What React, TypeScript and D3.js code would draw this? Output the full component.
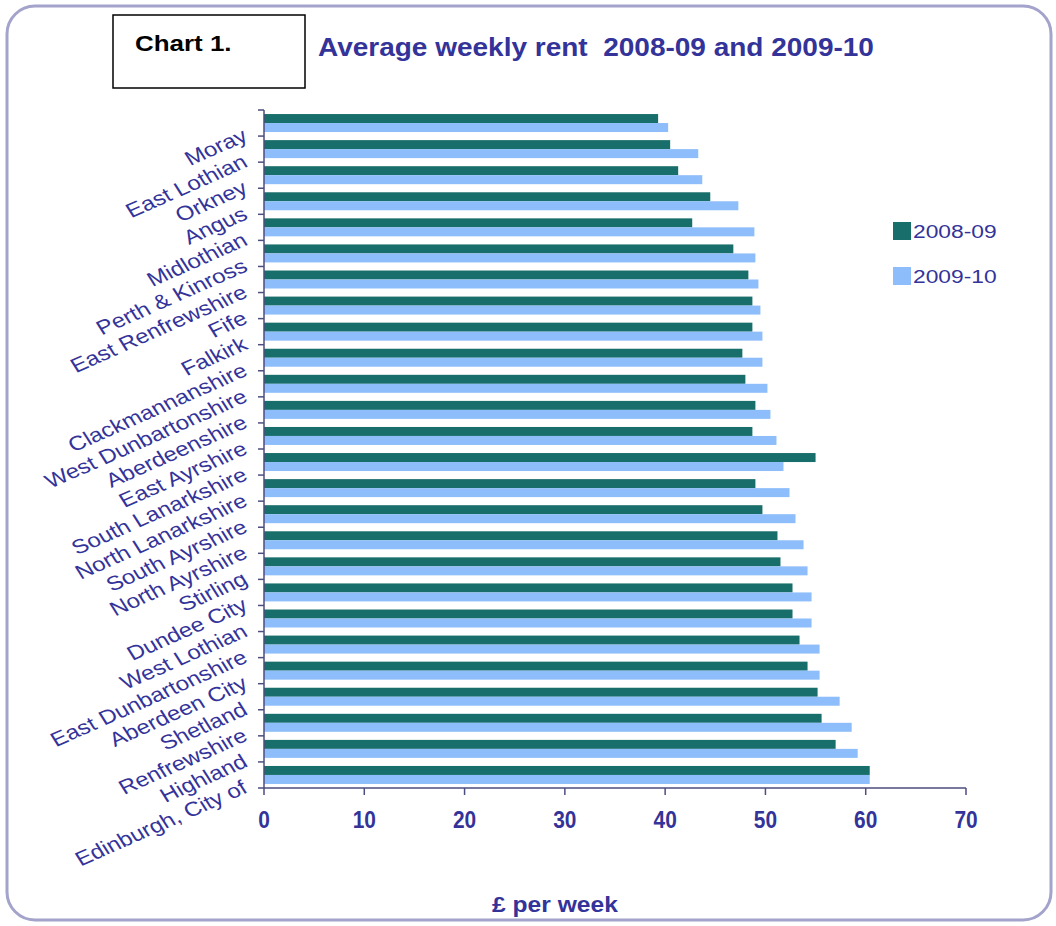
import * as d3 from 'd3'

const categories = [
  'Moray', 'East Lothian', 'Orkney', 'Angus', 'Midlothian', 'Perth & Kinross',
  'East Renfrewshire', 'Fife', 'Falkirk', 'Clackmannanshire', 'West Dunbartonshire',
  'Aberdeenshire', 'East Ayrshire', 'South Lanarkshire', 'North Lanarkshire',
  'South Ayrshire', 'North Ayrshire', 'Stirling', 'Dundee City', 'West Lothian',
  'East Dunbartonshire', 'Aberdeen City', 'Shetland', 'Renfrewshire', 'Highland',
  'Edinburgh, City of',
]
const rent0809 = [
  39.3, 40.5, 41.3, 44.5, 42.7, 46.8, 48.3, 48.7, 48.7, 47.7, 48.0, 49.0, 48.7,
  55.0, 49.0, 49.7, 51.2, 51.5, 52.7, 52.7, 53.4, 54.2, 55.2, 55.6, 57.0, 60.4,
]
const rent0910 = [
  40.3, 43.3, 43.7, 47.3, 48.9, 49.0, 49.3, 49.5, 49.7, 49.7, 50.2, 50.5, 51.1,
  51.8, 52.4, 53.0, 53.8, 54.2, 54.6, 54.6, 55.4, 55.4, 57.4, 58.6, 59.2, 60.4,
]
const seriesNames = ['2008-09', '2009-10']
const xTicks = [0, 10, 20, 30, 40, 50, 60, 70]

const W = 1056
const H = 926
const left = 264, right = 966, top = 110, bottom = 788
const navy = '#333399'
const axisColor = '#4d4d80'
const colors = ['#186e6a', '#8dbdfa']

// horizontal stretch around an anchor x, the source image text is a bit wide
const sx = (ax: number, k: number) => `translate(${ax},0) scale(${k},1) translate(${-ax},0)`

export default function App() {
  const x = d3.scaleLinear([0, 70], [left, right])
  const y = d3.scaleBand(categories, [top, bottom]).padding(0)
  const sub = d3.scaleBand(seriesNames, [0, y.bandwidth()]).paddingInner(0).paddingOuter(0.45)
  const color = d3.scaleOrdinal(seriesNames, colors)
  const series = [rent0809, rent0910]
  const boundaries = categories.map(c => y(c) as number).concat([bottom])

  return (
    <svg width={W} height={H} style={{ position: 'absolute', left: 0, top: 0, background: '#fff' }}
      fontFamily="'Liberation Sans', Arial, sans-serif">
      <rect x={7} y={6} width={1044} height={914} rx={28} fill="none" stroke="#a3a3cc" strokeWidth={3} />

      <rect x={113} y={15} width={192} height={73} fill="#fff" stroke="#000" strokeWidth={1.5} />
      <text x={135} y={51} fontSize={22} fontWeight="bold" fill="#000" transform={sx(135, 1.18)}>Chart 1.</text>
      <text x={318} y={56} fontSize={25} fontWeight="bold" fill={navy} transform={sx(318, 1.12)}
        style={{ whiteSpace: 'pre' }}>{'Average weekly rent  2008-09 and 2009-10'}</text>

      {series.map((vals, si) => (
        <g key={seriesNames[si]} fill={color(seriesNames[si])}>
          {vals.map((v, i) => (
            <rect key={categories[i]} x={x(0)} y={(y(categories[i]) as number) + (sub(seriesNames[si]) as number)}
              width={x(v) - x(0)} height={sub.bandwidth()} />
          ))}
        </g>
      ))}

      <g stroke={axisColor} strokeWidth={1.5}>
        <line x1={left} x2={left} y1={top} y2={bottom} />
        {boundaries.map((b, i) => <line key={i} x1={left - 6} x2={left} y1={b} y2={b} />)}
        <line x1={left} x2={right} y1={bottom} y2={bottom} />
        {xTicks.map(t => <line key={t} x1={x(t)} x2={x(t)} y1={bottom} y2={bottom + 7} />)}
      </g>

      {xTicks.map(t => (
        <text key={t} x={x(t)} y={828} textAnchor="middle" fontSize={24} fontWeight="bold" fill={navy}
          transform={sx(x(t), 0.87)}>{t}</text>
      ))}

      {categories.map(c => {
        const cy = (y(c) as number) + y.bandwidth() / 2
        return (
          <text key={c} textAnchor="end" fontSize={20} fill={navy}
            transform={`translate(249,${cy + 17}) scale(1.2,1) rotate(-28)`}>{c}</text>
        )
      })}

      <text x={555} y={912} textAnchor="middle" fontSize={22} fontWeight="bold" fill={navy}
        transform={sx(555, 1.12)}>£ per week</text>

      {seriesNames.map((s, i) => (
        <g key={s} transform={`translate(893,${222 + i * 45})`}>
          <rect width={18} height={18} fill={color(s)} />
          <text x={20} y={16} fontSize={19} fill={navy} transform={sx(20, 1.2)}>{s}</text>
        </g>
      ))}
    </svg>
  )
}
